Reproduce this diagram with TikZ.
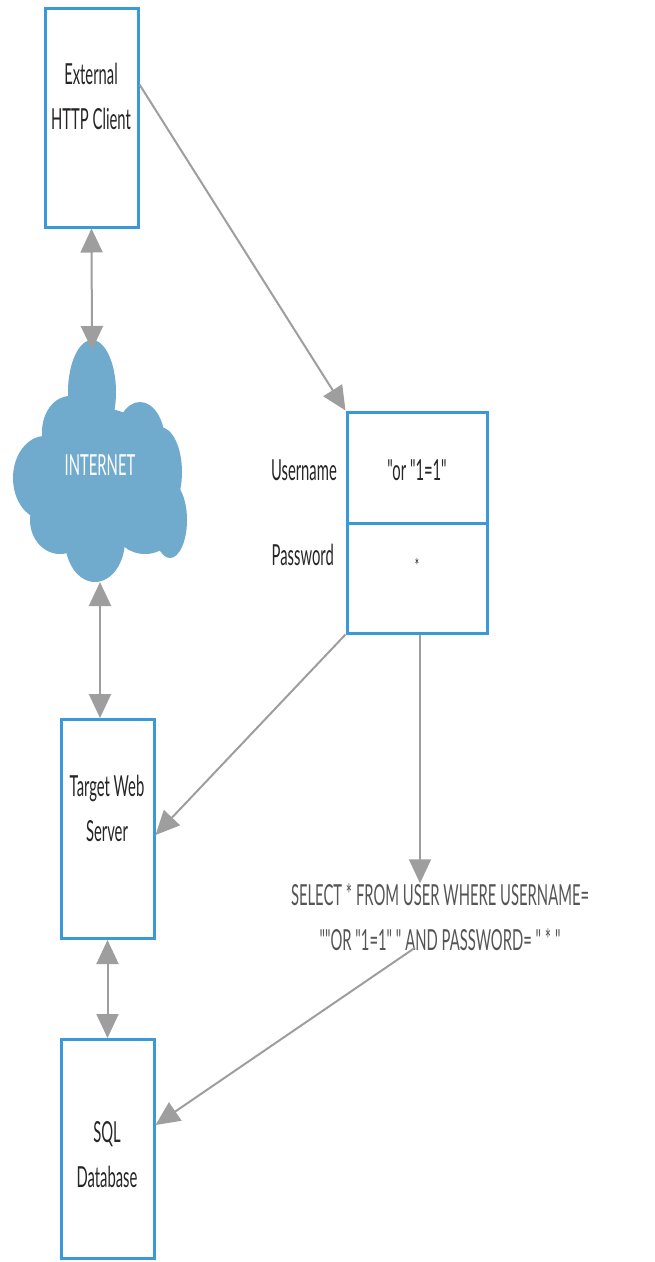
\documentclass[tikz,border=0pt]{standalone}
\usepackage{fontspec}
\newfontfamily\latofont{Lato}[FakeStretch=0.51]
\usetikzlibrary{arrows.meta,calc}
\definecolor{boxblue}{HTML}{3A9AD9}
\definecolor{arrowgray}{HTML}{9E9E9E}
\definecolor{cloudblue}{HTML}{70AACD}
\definecolor{txt}{HTML}{262626}
\definecolor{sqltxt}{HTML}{555555}
\begin{document}
\begin{tikzpicture}[x=1pt,y=-1pt,
  box/.style={draw=boxblue,line width=3pt,fill=white,inner sep=0pt,minimum width=93pt,minimum height=219pt},
  lbl/.style={text=txt,font=\latofont\fontsize{29}{45}\selectfont,align=center,inner sep=0pt},
  conn/.style={draw=arrowgray,line width=2pt,-{Triangle[length=24pt,width=22pt]}},
  biconn/.style={draw=arrowgray,line width=2pt,{Triangle[length=24pt,width=22pt]}-{Triangle[length=24pt,width=22pt]}}]
\useasboundingbox (0,0) rectangle (655,1262);
% external client
\node[box] (client) at (91.5,117.5) {};
\node[lbl] (clientlbl) at (91,96) {External\\HTTP Client};
% cloud
\begin{scope}[fill=cloudblue]
\fill (92,392) ellipse [x radius=24, y radius=52];
\fill (70,432) ellipse [x radius=28, y radius=36];
\fill (45,478) ellipse [x radius=32, y radius=42];
\fill (140,442) ellipse [x radius=25, y radius=40];
\fill (160,472) ellipse [x radius=22, y radius=45];
\fill (170,520) ellipse [x radius=17, y radius=38];
\fill (145,528) ellipse [x radius=30, y radius=26];
\fill (95,540) ellipse [x radius=30, y radius=42];
\fill (60,520) ellipse [x radius=30, y radius=34];
\fill (100,470) ellipse [x radius=62, y radius=62];
\end{scope}
\node[lbl,text=white] (internet) at (100,465) {INTERNET};
\coordinate (cloudtop) at (92,350);
\coordinate (cloudbot) at (100,582);
% server and db
\node[box] (server) at (107.5,829) {};
\node[lbl] (serverlbl) at (107,808) {Target Web\\Server};
\node[box] (db) at (107.5,1149) {};
\node[lbl] (dblbl) at (107,1155) {SQL\\Database};
% form
\node[box,minimum width=140pt,minimum height=111pt] (user) at (417,467.5) {};
\node[box,minimum width=140pt,minimum height=110pt] (pass) at (417,578) {};
\node[lbl] (uval) at (417,470) {"or "1=1"};
\node[lbl,font=\latofont\fontsize{20}{22}\selectfont] (pval) at (417,566) {*};
\node[lbl,anchor=east] (ulbl) at (337,470) {Username};
\node[lbl,anchor=east] (plbl) at (334,555) {Password};
% query
\node[lbl,text=sqltxt,font=\latofont\fontsize{29}{45}\selectfont] (query) at (440,917) {SELECT * FROM USER WHERE USERNAME=\\""OR "1=1" " AND PASSWORD= " * "};
% connectors
\draw[biconn] (client.south) -- (cloudtop);
\draw[biconn] (cloudbot) -- (cloudbot |- server.north);
\draw[biconn] (server.south) -- (db.north);
\draw[conn] ([yshift=-78pt]client.north east) -- (user.north west);
\draw[conn] (pass.south west) -- ([yshift=-6pt]server.east);
\draw[conn] ([xshift=3pt]pass.south) -- ([xshift=3pt]pass.south |- query.north);
\draw[conn] ([xshift=-25pt,yshift=3pt]query.south) -- ([yshift=24pt]db.east);
\end{tikzpicture}
\end{document}
